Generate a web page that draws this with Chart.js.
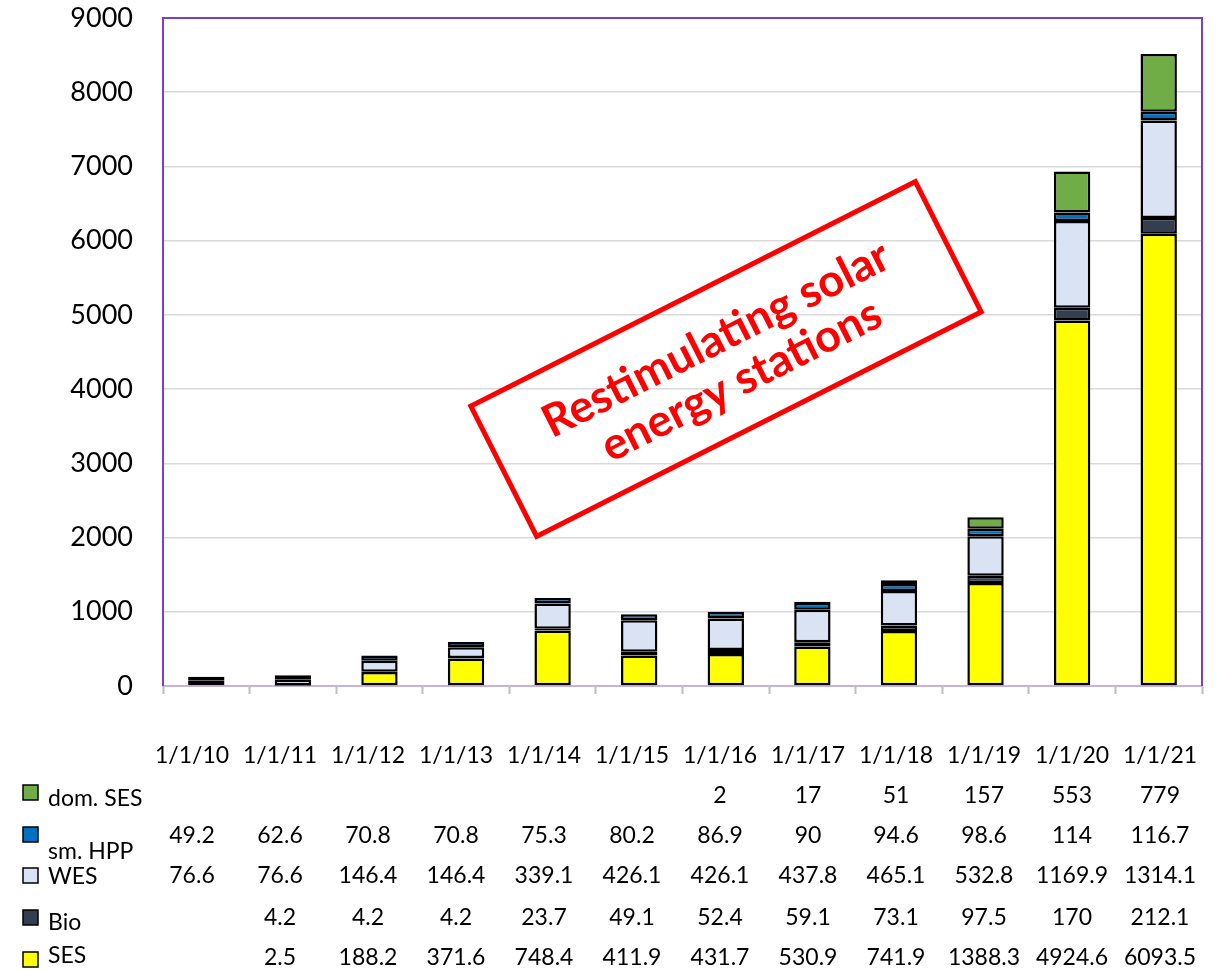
<!DOCTYPE html>
<html>
<head>
<meta charset="utf-8">
<script src="https://cdn.jsdelivr.net/npm/chart.js@4/dist/chart.umd.min.js"></script>
<style>
  body { margin: 0; background: #fff; }
  canvas { display: block; }
</style>
</head>
<body>
<canvas id="energyChart" width="1217" height="970"></canvas>
<script>
"use strict";

/* ── data ── */
const categories = ["1/1/10", "1/1/11", "1/1/12", "1/1/13", "1/1/14", "1/1/15",
                    "1/1/16", "1/1/17", "1/1/18", "1/1/19", "1/1/20", "1/1/21"];
const domSES = [null, null, null, null, null, null, 2, 17, 51, 157, 553, 779];
const smHPP  = [49.2, 62.6, 70.8, 70.8, 75.3, 80.2, 86.9, 90, 94.6, 98.6, 114, 116.7];
const wes    = [76.6, 76.6, 146.4, 146.4, 339.1, 426.1, 426.1, 437.8, 465.1, 532.8, 1169.9, 1314.1];
const bio    = [null, 4.2, 4.2, 4.2, 23.7, 49.1, 52.4, 59.1, 73.1, 97.5, 170, 212.1];
const ses    = [null, 2.5, 188.2, 371.6, 748.4, 411.9, 431.7, 530.9, 741.9, 1388.3, 4924.6, 6093.5];
const yTicks = [0, 1000, 2000, 3000, 4000, 5000, 6000, 7000, 8000, 9000];

const FONT = "Lato, 'Open Sans', sans-serif";

const series = [
  { label: "SES",      data: ses,    color: "#FFFF00" },
  { label: "Bio",      data: bio,    color: "#333F50" },
  { label: "WES",      data: wes,    color: "#DAE3F3" },
  { label: "sm. HPP",  data: smHPP,  color: "#0070C0" },
  { label: "dom. SES", data: domSES, color: "#70AD47" },
];

/* ── frame: purple left/top/right ── */
const framePlugin = {
  id: "frame",
  afterDatasetsDraw(chart) {
    const { ctx, chartArea: a } = chart;
    ctx.save();
    ctx.strokeStyle = "#7F3FBF";
    ctx.lineWidth = 2;
    ctx.beginPath();
    ctx.moveTo(a.left, a.bottom);
    ctx.lineTo(a.left, a.top);
    ctx.lineTo(a.right, a.top);
    ctx.lineTo(a.right, a.bottom);
    ctx.stroke();
    ctx.restore();
  },
};

/* ── data table under the plot ── */
const tablePlugin = {
  id: "dataTable",
  afterDraw(chart) {
    const ctx = chart.ctx;
    const colLeft = 148, colW = 88;
    const headerY = 756;
    const rowY = [796, 836, 876, 918, 958];      // number rows, top to bottom
    const swatchY = [792, 834, 875, 917, 959];   // swatch centres
    const labelY = [799, 852, 877, 923, 956];    // legend text centres
    const rows = series.slice().reverse();

    ctx.save();
    ctx.fillStyle = "#000";
    ctx.textBaseline = "middle";
    ctx.font = "23px " + FONT;
    ctx.textAlign = "center";
    categories.forEach((c, i) => {
      ctx.fillText(c, colLeft + colW * (i + 0.5), headerY);
    });

    rows.forEach((s, r) => {
      // legend key
      ctx.fillStyle = s.color;
      ctx.fillRect(23, swatchY[r] - 7, 15, 15);
      ctx.strokeStyle = "#000";
      ctx.lineWidth = 1.5;
      ctx.strokeRect(23, swatchY[r] - 7, 15, 15);
      ctx.fillStyle = "#000";
      ctx.textAlign = "left";
      ctx.fillText(s.label, 48, labelY[r]);
      // values
      ctx.textAlign = "center";
      s.data.forEach((v, i) => {
        if (v == null) return;
        ctx.fillText(String(v), colLeft + colW * (i + 0.5), rowY[r]);
      });
    });
    ctx.restore();
  },
};

/* ── red rotated note ── */
const notePlugin = {
  id: "note",
  afterDraw(chart) {
    const ctx = chart.ctx;
    ctx.save();
    ctx.translate(726, 359);
    ctx.rotate(-26.8 * Math.PI / 180);
    ctx.strokeStyle = "#FF0000";
    ctx.lineWidth = 5;
    ctx.strokeRect(-249, -73, 498, 146);
    ctx.fillStyle = "#FF0000";
    ctx.font = "bold 45px " + FONT;
    ctx.textAlign = "center";
    ctx.textBaseline = "middle";
    ctx.fillText("Restimulating solar", 0, -22);
    ctx.fillText("energy stations", 4, 26);
    ctx.restore();
  },
};

new Chart(document.getElementById("energyChart"), {
  type: "bar",
  data: {
    labels: categories,
    datasets: series.map((s) => ({
      label: s.label,
      data: s.data,
      backgroundColor: s.color,
      borderColor: "#000",
      borderWidth: 2.5,
      borderSkipped: false,
      categoryPercentage: 1,
      barPercentage: 0.42,
    })),
  },
  options: {
    responsive: false,
    animation: false,
    layout: { padding: { left: 0, top: 18, right: 15, bottom: 276 } },
    plugins: {
      legend: { display: false },
      tooltip: { enabled: false },
    },
    scales: {
      x: {
        stacked: true,
        afterFit: (s) => {
          s.height = 8;
          s.paddingLeft = 0;
          s.paddingRight = 0;
        },
        ticks: { display: false },
        grid: {
          drawOnChartArea: false,
          drawTicks: true,
          tickLength: 8,
          tickColor: "#BFBFBF",
          tickWidth: 2,
        },
        border: { display: true, color: "#C6B3DA", width: 2 },
      },
      y: {
        stacked: true,
        min: 0,
        max: 9000,
        afterFit: (s) => {
          s.width = 163;
          s.paddingTop = 0;
          s.paddingBottom = 0;
        },
        afterBuildTicks: (s) => { s.ticks = yTicks.map((v) => ({ value: v })); },
        ticks: {
          padding: 30,
          color: "#000",
          font: { family: FONT, size: 27 },
          callback: (v) => String(v),
        },
        grid: { color: "#D9D9D9", lineWidth: 1.5, drawTicks: false },
        border: { display: false },
      },
    },
  },
  plugins: [framePlugin, tablePlugin, notePlugin],
});
</script>
</body>
</html>
